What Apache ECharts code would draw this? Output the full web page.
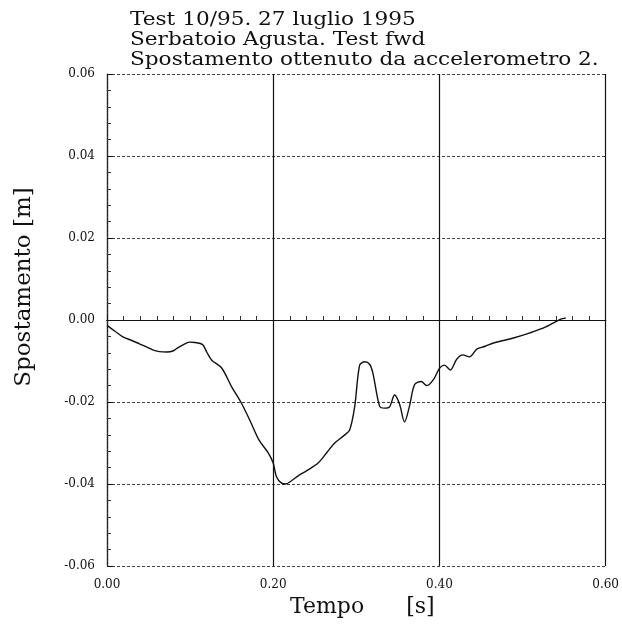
<!DOCTYPE html>
<html>
<head>
<meta charset="utf-8">
<script src="https://cdn.jsdelivr.net/npm/echarts@6/dist/echarts.min.js"></script>
<style>
html,body{margin:0;padding:0;background:#fff;}
#chart{width:622px;height:624px;}
</style>
</head>
<body>
<div id="chart"></div>
<script>
const titleLines = ['Test 10/95. 27 luglio 1995', 'Serbatoio Agusta. Test fwd', 'Spostamento ottenuto da accelerometro 2.'];
const xName = 'Tempo      [s]';
const yName = 'Spostamento [m]';

// tempo [s]
const tempo = [0.000, 0.010, 0.019, 0.030, 0.039, 0.048, 0.055, 0.063, 0.072, 0.080,
  0.085, 0.092, 0.099, 0.106, 0.115, 0.120, 0.126, 0.138, 0.150, 0.161,
  0.172, 0.183, 0.194, 0.200, 0.204, 0.210, 0.215, 0.222, 0.230, 0.240,
  0.254, 0.265, 0.274, 0.285, 0.292, 0.298, 0.304, 0.310, 0.316, 0.320,
  0.328, 0.334, 0.340, 0.346, 0.352, 0.358, 0.364, 0.370, 0.378, 0.385,
  0.393, 0.400, 0.406, 0.413, 0.421, 0.428, 0.436, 0.445, 0.455, 0.465,
  0.477, 0.489, 0.508, 0.528, 0.546, 0.552];
// spostamento [m]
const spostamento = [-0.0013, -0.0028, -0.0041, -0.0050, -0.0058, -0.0066, -0.0073, -0.0077, -0.0078, -0.0075,
  -0.0068, -0.0060, -0.0054, -0.0055, -0.0060, -0.0078, -0.0098, -0.0117, -0.0163, -0.0200,
  -0.0245, -0.0293, -0.0324, -0.0349, -0.0383, -0.0398, -0.0400, -0.0392, -0.0380, -0.0368,
  -0.0349, -0.0322, -0.0300, -0.0282, -0.0268, -0.0212, -0.0110, -0.0102, -0.0108, -0.0130,
  -0.0210, -0.0215, -0.0212, -0.0183, -0.0205, -0.0249, -0.0210, -0.0158, -0.0150, -0.0160,
  -0.0145, -0.0118, -0.0110, -0.0122, -0.0095, -0.0085, -0.0090, -0.0071, -0.0064, -0.0056,
  -0.0050, -0.0044, -0.0032, -0.0017, 0.0002, 0.0005];

const font = '"DejaVu Serif", "Liberation Serif", serif';
const chart = echarts.init(document.getElementById('chart'), null, {renderer: 'canvas'});

// title lines, slightly stretched like the plotter font
const titleGraphics = titleLines.map((line, i) => ({
  type: 'text', x: 130, y: 29 + i * 20, scaleX: 1.2,
  style: {text: line, font: '18px ' + font, fill: '#111', verticalAlign: 'bottom'}
}));

const option = {
  backgroundColor: '#fff',
  animation: false,
  graphic: titleGraphics.concat([{
    type: 'text', x: 24, y: 287, rotation: Math.PI / 2,
    style: {text: yName, font: '23px ' + font, fill: '#111', align: 'center', verticalAlign: 'middle'}
  }]),
  grid: {left: 107, right: 12, top: 74, bottom: 58},
  xAxis: [{
    type: 'value', min: 0, max: 0.6, interval: 0.2,
    name: xName, nameLocation: 'middle', nameGap: 29,
    nameTextStyle: {fontFamily: font, fontSize: 22, color: '#111', padding: [0, 0, 0, 12]},
    axisLine: {show: true, lineStyle: {color: '#111', width: 1.2}},
    axisTick: {show: true, inside: true, length: 6, lineStyle: {color: '#111'}},
    minorTick: {show: true, splitNumber: 10, length: 4, lineStyle: {color: '#333'}},
    axisLabel: {fontFamily: font, fontSize: 12, color: '#111', margin: 13,
      formatter: v => v.toFixed(2)},
    splitLine: {show: true, lineStyle: {color: '#111', width: 1.2}}
  }, {
    type: 'value', position: 'top', min: 0, max: 0.6,
    axisLine: {show: true, lineStyle: {color: '#111', width: 1.2}},
    axisTick: {show: false}, axisLabel: {show: false}, splitLine: {show: false}
  }],
  yAxis: [{
    type: 'value', min: -0.06, max: 0.06, interval: 0.02,
    axisLine: {show: true, lineStyle: {color: '#111', width: 1.2}},
    axisTick: {show: true, inside: true, length: 6, lineStyle: {color: '#111'}},
    minorTick: {show: true, splitNumber: 5, length: 4, lineStyle: {color: '#333'}},
    axisLabel: {fontFamily: font, fontSize: 12, color: '#111', margin: 12,
      formatter: v => (Math.abs(v) < 1e-9 ? 0 : v).toFixed(2)},
    splitLine: {show: true, lineStyle: {color: '#444', width: 1, type: [3, 2]}}
  }, {
    type: 'value', position: 'right', min: -0.06, max: 0.06,
    axisLine: {show: true, lineStyle: {color: '#333', width: 1, type: [2, 2]}},
    axisTick: {show: false}, axisLabel: {show: false}, splitLine: {show: false}
  }],
  series: [{
    type: 'line',
    data: tempo.map((t, i) => [t, spostamento[i]]),
    smooth: 0.3,
    symbol: 'none',
    lineStyle: {color: '#111', width: 1.4},
    markLine: {
      silent: true, symbol: 'none', label: {show: false},
      lineStyle: {color: '#111', width: 1.2, type: 'solid'},
      data: [{yAxis: 0}]
    }
  }]
};
chart.setOption(option);
</script>
</body>
</html>
